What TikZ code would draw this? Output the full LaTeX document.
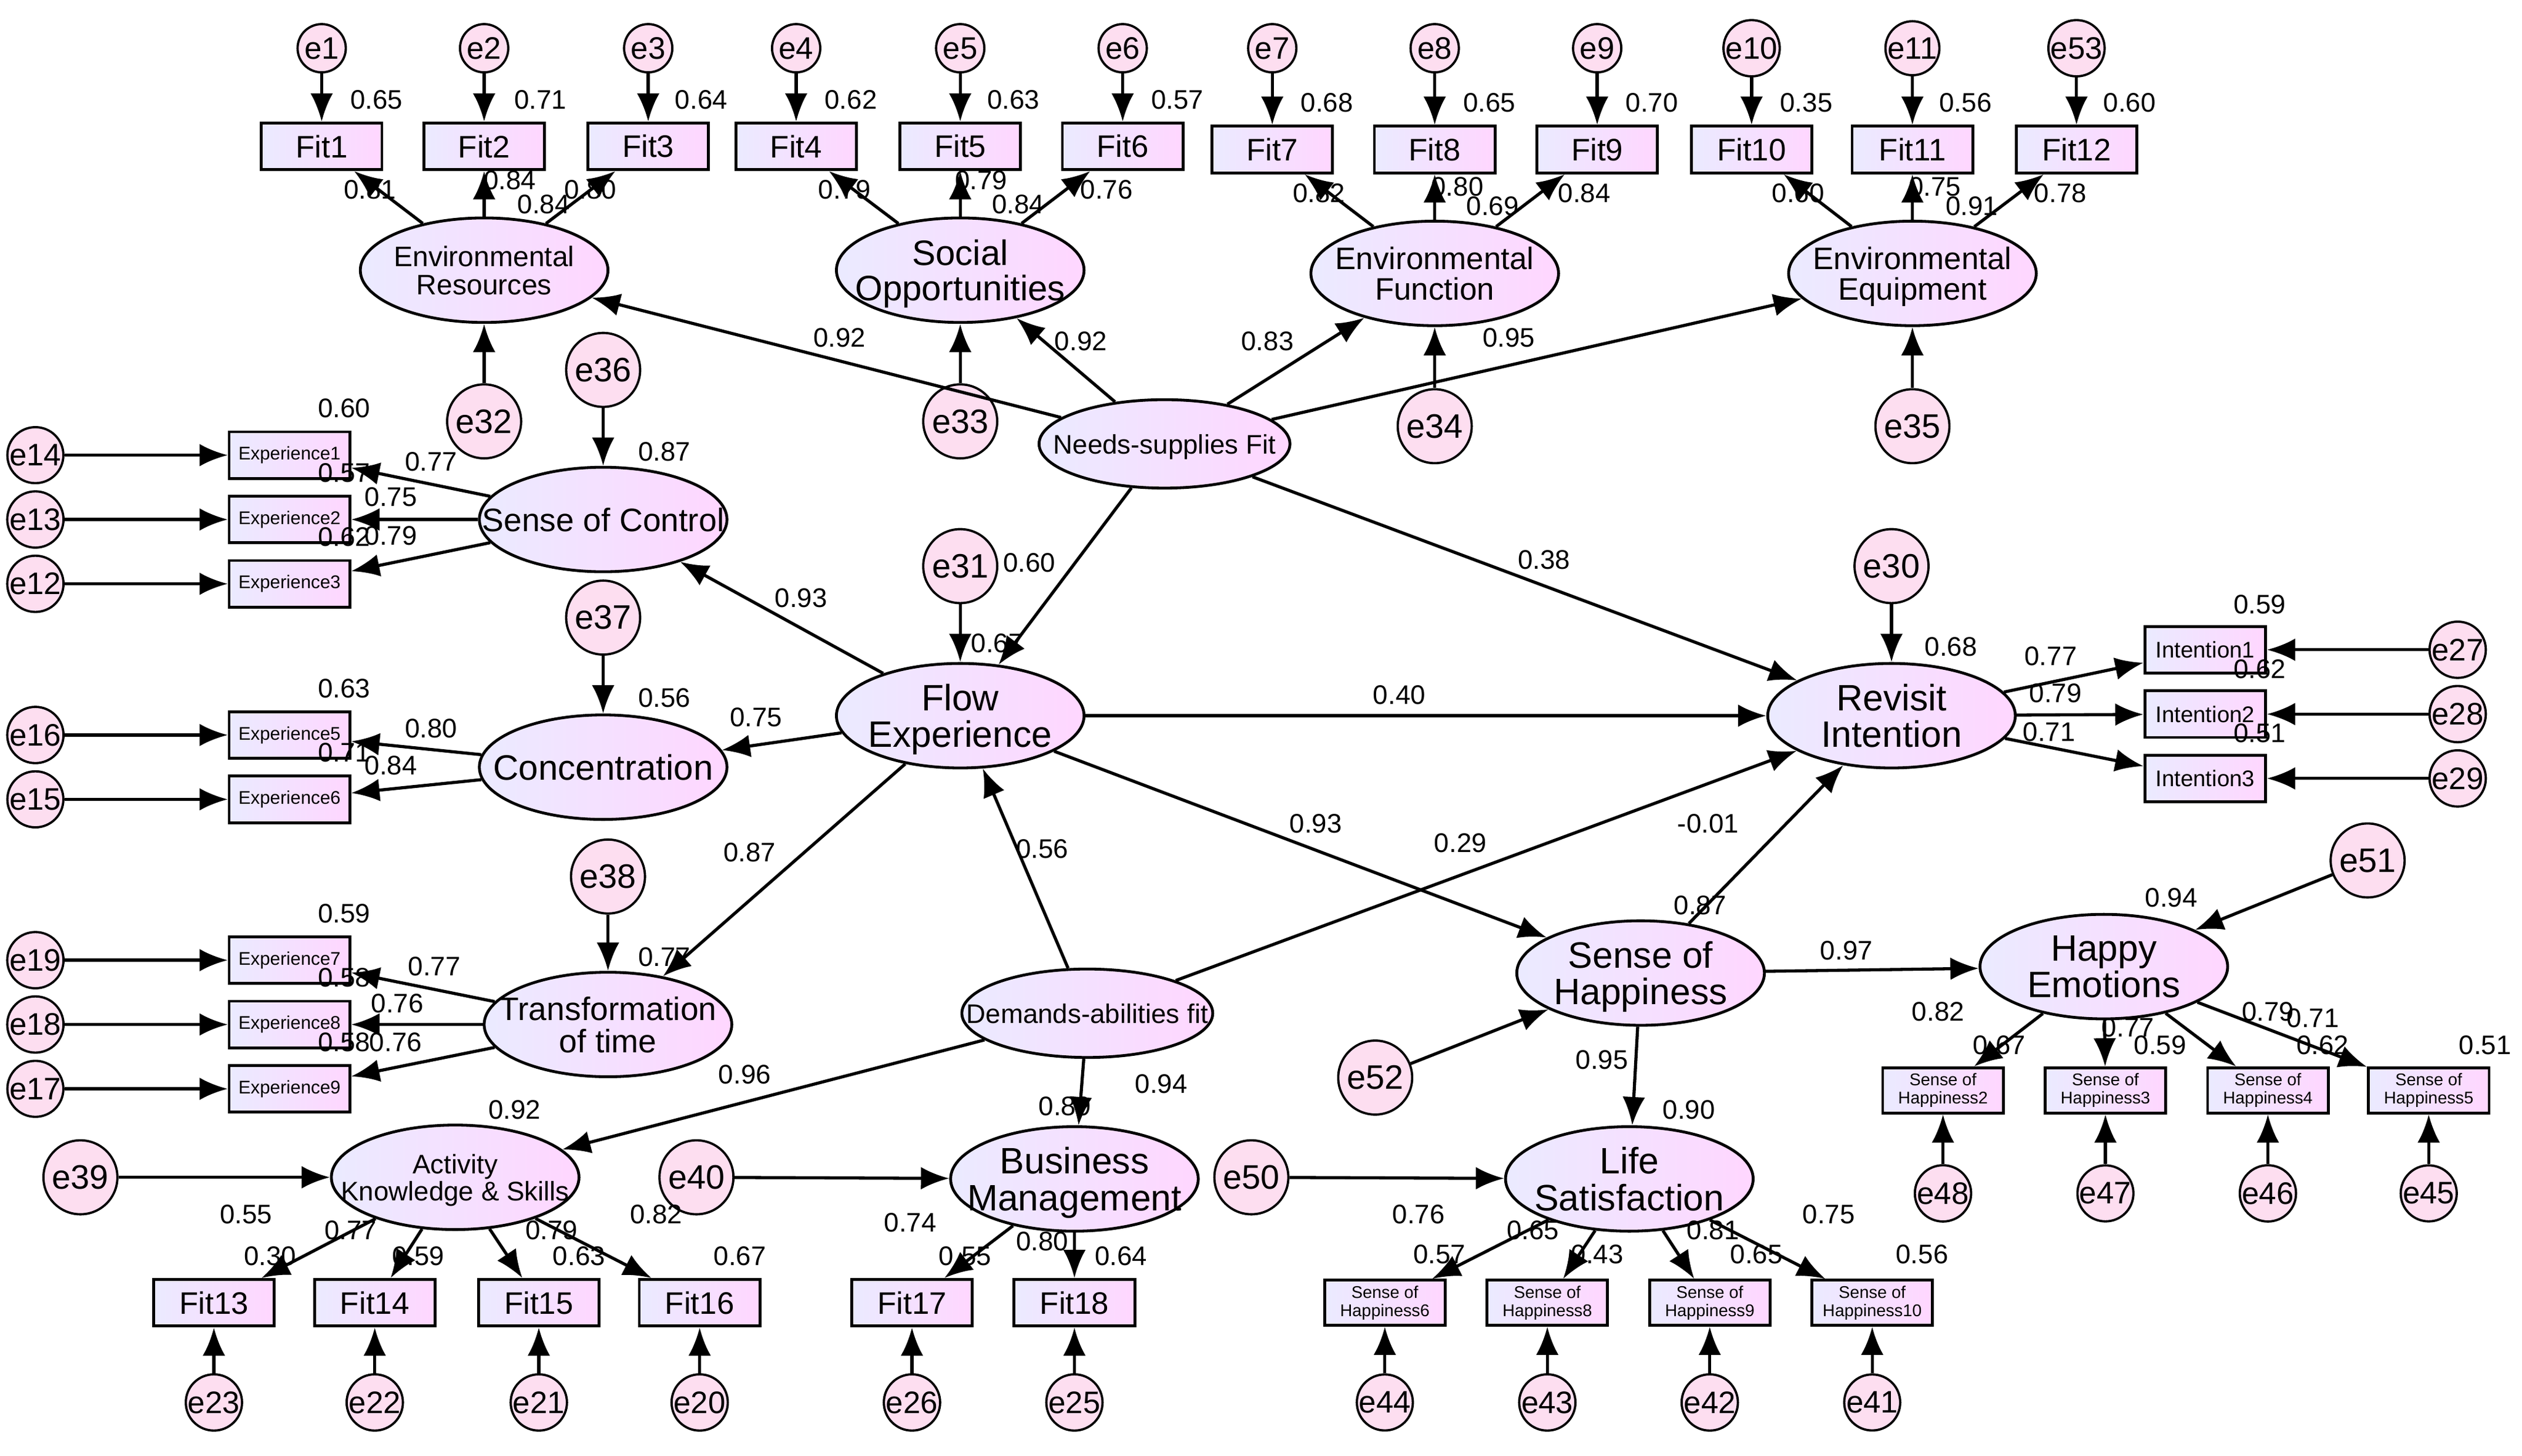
\documentclass[tikz,border=0pt]{standalone}
\usepackage{fontspec}
\setmainfont{Liberation Sans}
\usetikzlibrary{shapes.geometric,arrows.meta}
\newcommand\mylat[6][]{\node[lat,#1,label={[ltxt,font=\fontsize{#6}{#6}\selectfont]center:#5}] (#2) at (#3,#4) {};}
\begin{document}
\begin{tikzpicture}[x=0.02cm,y=-0.02cm,
 arr/.style={-{Latex[length=10pt,width=8pt]},line width=1.1pt},
 lat/.style={ellipse,draw,line width=1pt,minimum width=3.08cm,minimum height=1.3cm,inner sep=0pt,left color=blue!8!white,right color=magenta!16!white},
 ltxt/.style={align=center,inner sep=0pt,text depth=0pt},
 ind/.style={rectangle,draw,line width=1pt,minimum width=1.5cm,minimum height=0.58cm,inner sep=0pt,font=\fontsize{11}{12}\selectfont,left color=blue!8!white,right color=magenta!16!white},
 sind/.style={ind,font=\fontsize{6.5}{7}\selectfont},
 hind/.style={ind,align=center,font=\fontsize{6}{6.5}\selectfont,minimum height=0.56cm},
 err/.style={circle,draw,line width=0.8pt,minimum size=0.6cm,inner sep=0pt,fill=magenta!13!white,font=\fontsize{11}{12}\selectfont},
 dis/.style={err,minimum size=0.92cm,font=\fontsize{12}{13}\selectfont},
 lab/.style={font=\fontsize{9.5}{10}\selectfont,inner sep=0pt}]
\useasboundingbox (0,0) rectangle (1568,905);
% top indicators
\foreach \n/\e/\x/\y in {1/e1/200/91,2/e2/301/91,3/e3/403/91,4/e4/495/91,5/e5/597/91,6/e6/698/91,7/e7/791/93,8/e8/892/93,9/e9/993/93,10/e10/1089/93,11/e11/1189/93,12/e53/1291/93}{
 \node[ind] (F\n) at (\x,\y) {Fit\n};
 \node[err] (E\n) at (\x,30) {\e};
 \draw[arr] (E\n) -- (F\n);
}
\mylat{ER}{301}{168}{Environmental\\Resources}{10}
\mylat{SO}{597}{168}{Social\\Opportunities}{12.5}
\mylat{EF}{892}{170}{Environmental\\Function}{11}
\mylat{EE}{1189}{170}{Environmental\\Equipment}{11}
\node[dis] (e32) at (301,262) {e32};
\node[dis] (e33) at (597,262) {e33};
\node[dis] (e34) at (892,265) {e34};
\node[dis] (e35) at (1189,265) {e35};
\foreach \a/\b in {e32/ER,e33/SO,e34/EF,e35/EE}{\draw[arr] (\a)--(\b);}
\foreach \l/\i in {ER/1,ER/2,ER/3,SO/4,SO/5,SO/6,EF/7,EF/8,EF/9,EE/10,EE/11,EE/12}{\draw[arr] (\l)--(F\i);}
\mylat[minimum width=3.12cm,minimum height=1.1cm]{NSF}{724}{276}{Needs-supplies Fit}{9.5}
% left groups
\mylat{SoC}{375}{323}{Sense of Control}{11.5}
\mylat{Con}{375}{477}{Concentration}{12.5}
\mylat{Tr}{378}{637}{Transformation\\of time}{11.5}
\node[dis] (e36) at (375,230) {e36};
\node[dis] (e37) at (375,384) {e37};
\node[dis] (e38) at (378,545) {e38};
\draw[arr] (e36)--(SoC); \draw[arr] (e37)--(Con); \draw[arr] (e38)--(Tr);
\foreach \n/\e/\y/\l in {1/e14/283/SoC,2/e13/323/SoC,3/e12/363/SoC,5/e16/457/Con,6/e15/497/Con,7/e19/597/Tr,8/e18/637/Tr,9/e17/677/Tr}{
 \node[sind] (X\n) at (180,\y) {Experience\n};
 \node[err] (EX\n) at (22,\y) {\e};
 \draw[arr] (EX\n)--(X\n); \draw[arr] (\l)--(X\n);
}
\mylat{FE}{597}{445}{Flow\\Experience}{13}
\node[dis] (e31) at (597,352) {e31};
\draw[arr] (e31)--(FE);
\mylat{RI}{1176}{445}{Revisit\\Intention}{13}
\node[dis] (e30) at (1176,352) {e30};
\draw[arr] (e30)--(RI);
\foreach \n/\e/\y in {1/e27/404,2/e28/444,3/e29/484}{
 \node[sind,font=\fontsize{8}{9}\selectfont] (I\n) at (1371,\y) {Intention\n};
 \node[err] (EI\n) at (1528,\y) {\e};
 \draw[arr] (EI\n)--(I\n); \draw[arr] (RI)--(I\n);
}
\mylat[minimum width=3.12cm,minimum height=1.1cm]{DAF}{676}{630}{Demands-abilities fit}{9.5}
\mylat{SH}{1020}{605}{Sense of\\Happiness}{13}
\node[dis] (e52) at (855,670) {e52};
\draw[arr] (e52)--(SH);
\mylat{HE}{1308}{601}{Happy\\Emotions}{13}
\node[dis] (e51) at (1472,535) {e51};
\draw[arr] (e51)--(HE);
\foreach \n/\e/\x in {2/e48/1208,3/e47/1309,4/e46/1410,5/e45/1510}{
 \node[hind] (H\n) at (\x,678) {Sense of\\Happiness\n};
 \node[err] (EH\n) at (\x,742) {\e};
 \draw[arr] (EH\n)--(H\n); \draw[arr] (HE)--(H\n);
}
\mylat{LS}{1013}{733}{Life\\Satisfaction}{13}
\node[dis] (e50) at (778,732) {e50};
\draw[arr] (e50)--(LS);
\foreach \n/\e/\x in {6/e44/861,8/e43/962,9/e42/1063,10/e41/1164}{
 \node[hind] (H\n) at (\x,810) {Sense of\\Happiness\n};
 \node[err] (EH\n) at (\x,872) {\e};
 \draw[arr] (EH\n)--(H\n); \draw[arr] (LS)--(H\n);
}
\mylat{AK}{283}{732}{Activity\\Knowledge \& Skills}{9.5}
\node[dis] (e39) at (50,732) {e39};
\draw[arr] (e39)--(AK);
\mylat{BM}{668}{733}{Business\\Management}{13}
\node[dis] (e40) at (433,732) {e40};
\draw[arr] (e40)--(BM);
\foreach \n/\e/\x/\l in {13/e23/133/AK,14/e22/233/AK,15/e21/335/AK,16/e20/435/AK,17/e26/567/BM,18/e25/668/BM}{
 \node[ind] (F\n) at (\x,810) {Fit\n};
 \node[err] (E\n) at (\x,872) {\e};
 \draw[arr] (E\n)--(F\n); \draw[arr] (\l)--(F\n);
}
% structural paths
\foreach \a/\b in {NSF/ER,NSF/SO,NSF/EF,NSF/EE,NSF/FE,NSF/RI,FE/SoC,FE/Con,FE/Tr,FE/RI,FE/SH,DAF/FE,DAF/RI,DAF/AK,DAF/BM,SH/RI,SH/HE,SH/LS}{\draw[arr] (\a)--(\b);}
% labels
\foreach \x/\y/\t in {234/62/0.65,336/62/0.71,436/62/0.64,529/62/0.62,630/62/0.63,732/62/0.57,825/64/0.68,926/64/0.65,1027/64/0.70,1123/64/0.35,1222/64/0.56,1324/64/0.60,
230/118/0.81,317/112/0.84,338/127/0.84,367/118/0.80,525/118/0.79,610/112/0.79,633/127/0.84,688/118/0.76,
820/120/0.82,906/116/0.80,928/128/0.69,985/120/0.84,1118/120/0.60,1203/116/0.75,1226/128/0.91,1281/120/0.78,
522/210/0.92,672/212/0.92,788/212/0.83,938/210/0.95,640/350/0.60,960/348/0.38,
498/372/0.93,470/446/0.75,466/530/0.87,870/432/0.40,818/512/0.93,648/528/0.56,908/524/0.29,463/668/0.96,722/674/0.94,
1062/512/-0.01,1148/591/0.97,996/659/0.95,
413/281/0.87,413/434/0.56,413/595/0.77,620/400/0.67,1213/402/0.68,1057/563/0.87,1350/558/0.94,1050/690/0.90,320/690/0.92,662/688/0.89,
214/254/0.60,268/287/0.77,214/294/0.57,243/309/0.75,243/333/0.79,214/334/0.62,
214/428/0.63,268/453/0.80,214/468/0.71,243/476/0.84,
214/568/0.59,270/601/0.77,214/608/0.58,247/624/0.76,246/648/0.76,214/648/0.58,
1405/376/0.59,1275/408/0.77,1405/416/0.62,1278/431/0.79,1274/455/0.71,1405/456/0.51,
1205/629/0.82,1243/650/0.67,1323/639/0.77,1343/650/0.59,1410/629/0.79,1438/633/0.71,1444/650/0.62,1545/650/0.51,
882/755/0.76,895/780/0.57,953/765/0.65,993/780/0.43,1065/765/0.81,1092/780/0.65,1137/755/0.75,1195/780/0.56,
153/755/0.55,168/781/0.30,218/765/0.77,260/781/0.59,343/765/0.79,360/781/0.63,408/755/0.82,460/781/0.67,
566/760/0.74,600/781/0.55,648/772/0.80,697/781/0.64}{\node[lab] at (\x,\y) {\t};}
\end{tikzpicture}
\end{document}
